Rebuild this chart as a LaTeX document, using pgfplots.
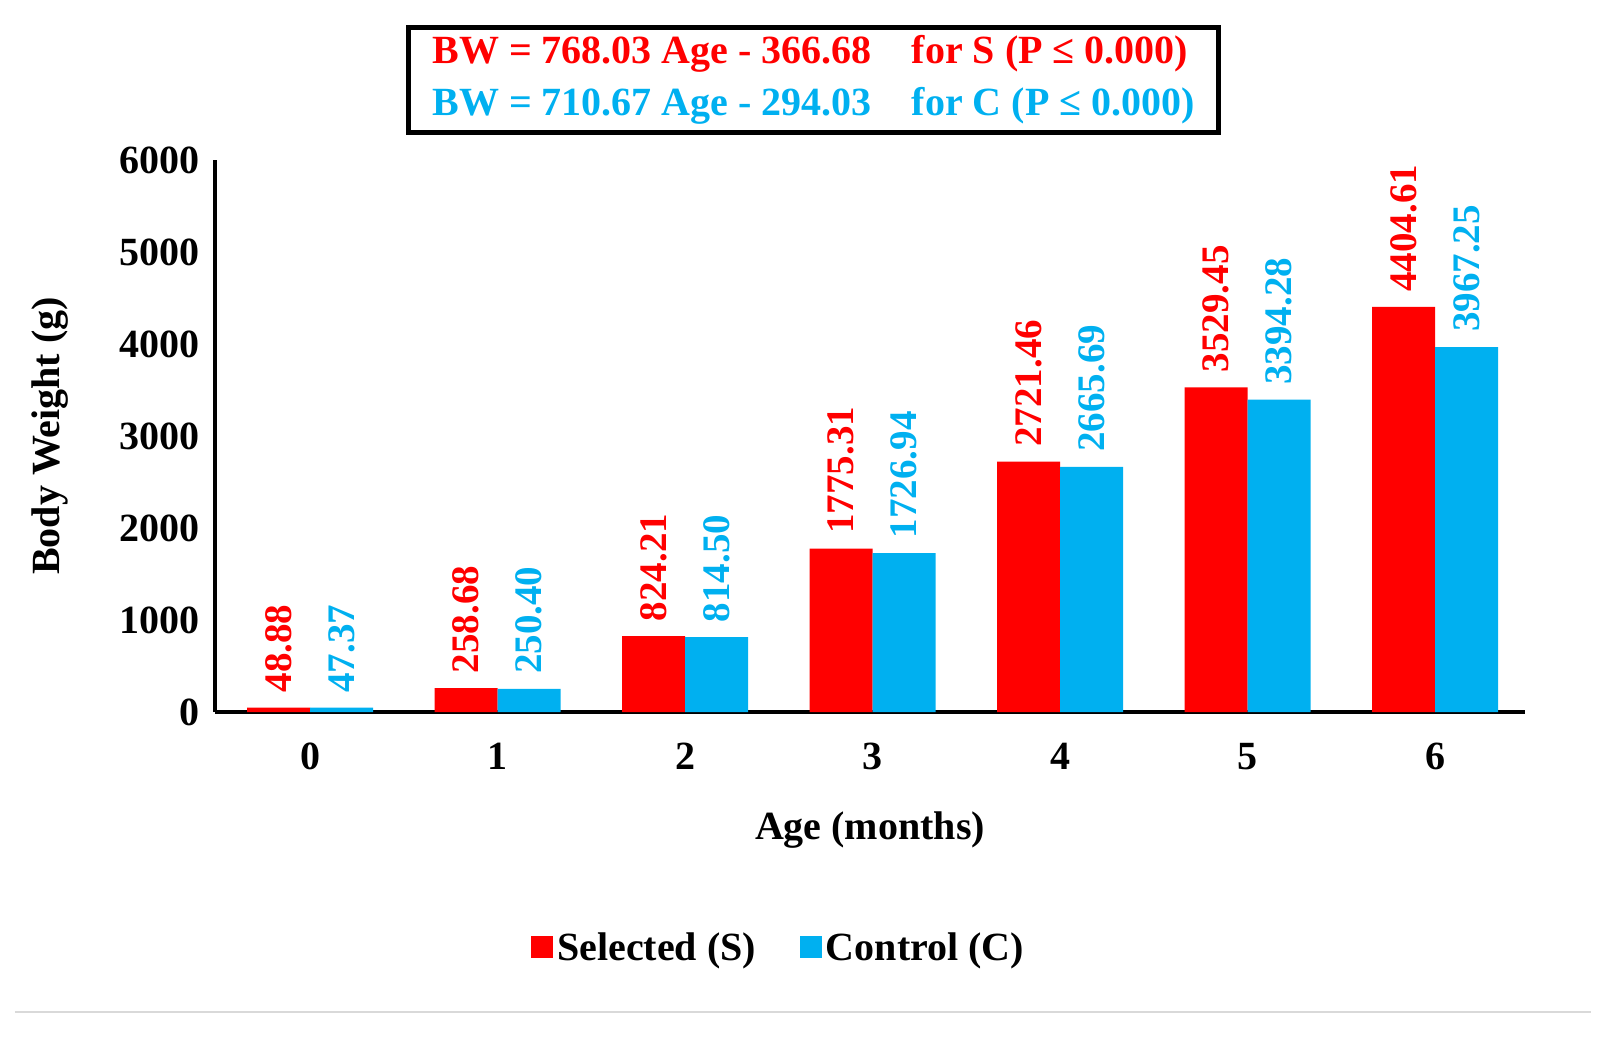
\documentclass[border=0pt]{standalone}
\usepackage{pgfplots}
\pgfplotsset{compat=1.18}
\usepackage{fontspec}
\setmainfont{Liberation Serif}
\definecolor{cR}{HTML}{FF0000}
\definecolor{cB}{HTML}{00B0F0}
\begin{document}
\begin{tikzpicture}
\begin{axis}[at={(0,0)},anchor=south west,scale only axis,
 width=655pt,height=276pt,
 xmin=-0.507,xmax=6.48,ymin=0,ymax=6000,
 ybar=0pt,bar width=0.336,
 axis x line*=bottom,axis y line*=left,
 axis line style={line width=2pt,-},
 xtick={0,...,6},ytick={0,1000,...,6000},
 major tick length=0pt,
 /pgf/number format/assume math mode=true,
 /pgf/number format/1000 sep={},
 tick label style={font=\fontsize{20}{24}\selectfont\bfseries},
 yticklabel style={xshift=-4pt},
 xticklabel style={yshift=-12pt},
 xlabel={Age (months)},ylabel={Body Weight (g)},
 label style={font=\fontsize{20}{24}\selectfont\bfseries},
 xlabel style={at={(axis description cs:0.5,-0.214)},anchor=center},
 ylabel style={at={(axis description cs:-0.126,0.5)},anchor=center},
 nodes near coords,
 nodes near coords style={rotate=90,anchor=west,font=\fontsize{19.5}{22}\selectfont\bfseries,
   /pgf/number format/fixed,/pgf/number format/precision=2,/pgf/number format/fixed zerofill,xshift=4pt},
 legend style={at={(axis description cs:0.431,-0.428)},anchor=center,draw=none,
   legend columns=2,font=\fontsize{20}{24}\selectfont\bfseries,
   /tikz/every even column/.append style={column sep=20pt}},
 legend image code/.code={\fill[#1] (0pt,-5pt) rectangle (11pt,6pt);},
 clip=false]
\addplot[fill=cR,draw=none,nodes near coords style={text=cR}] coordinates {(0,48.88)(1,258.68)(2,824.21)(3,1775.31)(4,2721.46)(5,3529.45)(6,4404.61)};
\addplot[fill=cB,draw=none,nodes near coords style={text=cB}] coordinates {(0,47.37)(1,250.40)(2,814.50)(3,1726.94)(4,2665.69)(5,3394.28)(6,3967.25)};
\legend{Selected (S),Control (C)}
\node[draw,line width=2.5pt,align=left,inner xsep=12pt,inner ysep=4pt,font=\fontsize{20}{26}\selectfont\bfseries] at (axis description cs:0.457,1.145)
 {\textcolor{cR}{BW = 768.03 Age - 366.68\quad for S (P ≤ 0.000)}\\
  \textcolor{cB}{BW = 710.67 Age - 294.03\quad for C (P ≤ 0.000)}};
\end{axis}
\draw[gray!30,line width=1pt] (-100pt,-150pt) -- (688pt,-150pt);
\pgfresetboundingbox
\path[use as bounding box] (-107.5pt,-172pt) rectangle (696.5pt,356pt);
\end{tikzpicture}
\end{document}
